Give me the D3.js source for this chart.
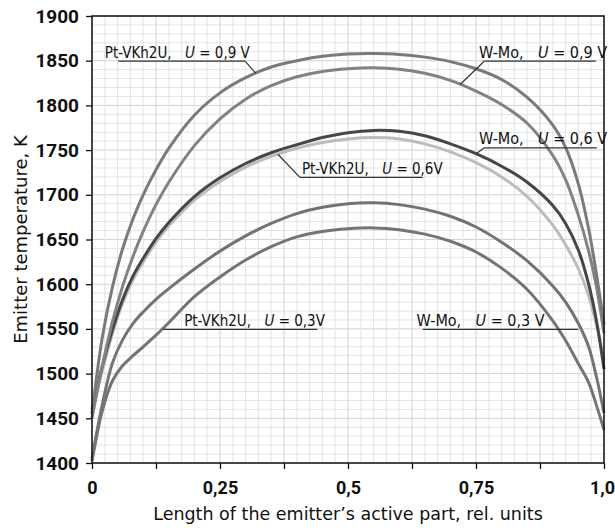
<!DOCTYPE html>
<html>
<head>
<meta charset="utf-8">
<script src="https://cdn.jsdelivr.net/npm/d3@7"></script>
<style>
  body { margin: 0; background: #fff; }
  .tick-y, .tick-x { font-family: "Liberation Sans Narrow", "Arial Narrow", "Roboto", sans-serif; fill: #111; }
  .note { font-family: "DejaVu Sans Condensed", "DejaVu Sans", sans-serif; fill: #111; }
  .title { font-family: "DejaVu Sans", Verdana, sans-serif; fill: #111; }
</style>
</head>
<body>
<div id="chart"></div>
<script>
// positions along the emitter (rel. units)
var xs = [0, 0.02, 0.04, 0.06, 0.08, 0.1, 0.125, 0.15, 0.2, 0.25, 0.3, 0.35, 0.4, 0.45,
          0.5, 0.55, 0.6, 0.65, 0.7, 0.75, 0.8, 0.85, 0.9, 0.925, 0.95, 0.97, 0.985, 1.0];

// emitter temperature, K
var ptVkh_09 = [1455, 1540, 1597, 1640, 1673, 1700, 1728, 1752, 1789, 1814, 1831, 1843, 1850, 1855,
                1857.5, 1858, 1857, 1854, 1849, 1841, 1829, 1809, 1778, 1753, 1712, 1662, 1612, 1555];
var wMo_09   = [1450, 1508, 1558, 1598, 1631, 1659, 1689, 1714, 1755, 1785, 1807, 1822, 1832, 1838,
                1841, 1842, 1840.5, 1836, 1828, 1816, 1801, 1780, 1744, 1717, 1677, 1637, 1598, 1545];
var wMo_06   = [1460, 1508, 1549, 1583, 1609, 1629, 1651, 1669, 1698, 1719, 1735, 1747, 1756, 1764,
                1769.5, 1772, 1771, 1766, 1757, 1746, 1732, 1714, 1688, 1668, 1638, 1600, 1560, 1505];
var ptVkh_06 = [1455, 1503, 1545, 1579, 1605, 1625, 1647, 1665, 1694, 1715, 1731, 1743, 1752, 1758.5,
                1762.5, 1764, 1762.5, 1757, 1748, 1736, 1720, 1698, 1666, 1644, 1617, 1587, 1555, 1515];
var wMo_03   = [1405, 1465, 1512, 1538, 1556, 1569, 1583, 1595, 1617, 1637, 1654, 1668, 1679, 1686,
                1690, 1691, 1689, 1684, 1676, 1664, 1647, 1626, 1598, 1580, 1556, 1530, 1497, 1456];
var ptVkh_03 = [1402, 1458, 1492, 1509, 1520, 1530, 1543, 1557, 1586, 1608, 1627, 1642, 1653, 1659,
                1662, 1663, 1661, 1656, 1648, 1636, 1618, 1594, 1559, 1537, 1511, 1490, 1465, 1437];

var yTicks = [1400, 1450, 1500, 1550, 1600, 1650, 1700, 1750, 1800, 1850, 1900];
var xTicks = [0, 0.125, 0.25, 0.375, 0.5, 0.625, 0.75, 0.875, 1.0];
var xTickLabels = { 0: "0", 0.25: "0,25", 0.5: "0,5", 0.75: "0,75", 1: "1,0" };

var series = [
  { key: "wMo03", values: wMo_03, color: "#737373" },
  { key: "pt03", values: ptVkh_03, color: "#747474" },
  { key: "pt06", values: ptVkh_06, color: "#bcbcbc" },
  { key: "wMo06", values: wMo_06, color: "#464646" },
  { key: "wMo09", values: wMo_09, color: "#828282" },
  { key: "pt09", values: ptVkh_09, color: "#7a7a7a" }
];

// callouts: label, target curve, text start, underline span, leader end on curve (data units)
var notes = [
  { name: "Pt-VKh2U,", u: "0,9 V", key: "pt09", size: 15, tx: 0.025, ty: 1850, x0: 0.051, x1: 0.299, at: 0.32 },
  { name: "W-Mo,", u: "0,9 V", key: "wMo09", size: 16, tx: 0.756, ty: 1850, x0: 0.766, x1: 0.984, at: 0.719 },
  { name: "W-Mo,", u: "0,6 V", key: "wMo06", size: 16, tx: 0.756, ty: 1753, x0: 0.766, x1: 0.986, at: 0.75 },
  { name: "Pt-VKh2U,", u: "0,6V", key: "pt06", size: 15, tx: 0.41, ty: 1720, x0: 0.406, x1: 0.646, at: 0.363 },
  { name: "Pt-VKh2U,", u: "0,3V", key: "pt03", size: 15, tx: 0.18, ty: 1550, x0: 0.139, x1: 0.44, at: 0.139 },
  { name: "W-Mo,", u: "0,3 V", key: "wMo03", size: 16, tx: 0.634, ty: 1550, x0: 0.646, x1: 0.95, at: 0.95 }
];

var W = 615, H = 528;
var svg = d3.select("#chart").append("svg")
    .attr("width", W)
    .attr("height", H);

var x = d3.scaleLinear().domain([0, 1]).range([92, 604]);
var y = d3.scaleLinear().domain([1400, 1900]).range([463, 16]);

// minor grid
var grid = svg.append("g");
grid.selectAll("line.gy")
    .data(d3.range(1400, 1901, 10))
    .enter().append("line")
    .attr("x1", x(0)).attr("x2", x(1))
    .attr("y1", d => y(d)).attr("y2", d => y(d))
    .attr("stroke", d => d % 50 === 0 ? "#d2d2d2" : "#e4e4e4")
    .attr("stroke-width", 1);
grid.selectAll("line.gx")
    .data(d3.range(0, 41).map(i => i / 40))
    .enter().append("line")
    .attr("y1", y(1400)).attr("y2", y(1900))
    .attr("x1", d => x(d)).attr("x2", d => x(d))
    .attr("stroke", (d, i) => i % 5 === 0 ? "#d2d2d2" : "#e4e4e4")
    .attr("stroke-width", 1);

// curves
var line = d3.line()
    .x((d, i) => x(xs[i]))
    .y(d => y(d))
    .curve(d3.curveCatmullRom.alpha(0.5));

svg.append("g").selectAll("path")
    .data(series)
    .enter().append("path")
    .attr("fill", "none")
    .attr("stroke", d => d.color)
    .attr("stroke-width", 3)
    .attr("d", d => line(d.values));

// value on a curve at position p (linear between read points)
function valueAt(key, p) {
  var s = series.find(d => d.key === key).values;
  var i = Math.max(1, Math.min(xs.length - 1, d3.bisectLeft(xs, p)));
  var t = (p - xs[i - 1]) / (xs[i] - xs[i - 1]);
  return s[i - 1] + t * (s[i] - s[i - 1]);
}

// callouts
var ng = svg.append("g");
notes.forEach(function (n) {
  ng.append("line")
    .attr("x1", x(n.x0)).attr("x2", x(n.x1))
    .attr("y1", y(n.ty) + 0.5).attr("y2", y(n.ty) + 0.5)
    .attr("stroke", "#333").attr("stroke-width", 1.3);
  var lx = n.at < n.x0 ? n.x0 : (n.at > n.x1 ? n.x1 : null);
  if (lx !== null) {
    ng.append("line")
      .attr("x1", x(lx)).attr("y1", y(n.ty) + 0.5)
      .attr("x2", x(n.at)).attr("y2", y(valueAt(n.key, n.at)))
      .attr("stroke", "#333").attr("stroke-width", 1.2);
  }
  var t = ng.append("text")
    .attr("class", "note")
    .attr("x", x(n.tx))
    .attr("y", y(n.ty) - 3)
    .attr("font-size", n.size);
  t.append("tspan").text(n.name + "\u2003");
  t.append("tspan").attr("font-style", "italic").text("U");
  t.append("tspan").text(" = " + n.u);
});

// frame
svg.append("rect")
    .attr("x", x(0)).attr("y", y(1900))
    .attr("width", x(1) - x(0)).attr("height", y(1400) - y(1900))
    .attr("fill", "none").attr("stroke", "#111").attr("stroke-width", 1.5);

// axes
var yAxis = d3.axisLeft(y).tickValues(yTicks).tickSize(6).tickPadding(7).tickFormat(d3.format("d"));
var gy = svg.append("g").attr("transform", "translate(" + x(0) + ",0)").call(yAxis);
gy.select(".domain").remove();
gy.selectAll("line").attr("stroke", "#111").attr("stroke-width", 1.3);
gy.selectAll("text").attr("class", "tick-y").attr("font-size", 19).attr("font-weight", "bold").attr("fill", "#1a1a1a");

var xAxis = d3.axisBottom(x).tickValues(xTicks).tickSize(6).tickPadding(12)
    .tickFormat(d => xTickLabels[d] || "");
var gx = svg.append("g").attr("transform", "translate(0," + y(1400) + ")").call(xAxis);
gx.select(".domain").remove();
gx.selectAll("line").attr("stroke", "#111").attr("stroke-width", 1.3);
gx.selectAll("text").attr("class", "tick-x").attr("font-size", 18).attr("font-weight", "bold").attr("fill", "#1a1a1a")
    .attr("dx", d => d === 1 ? -2 : 0);

// axis titles
svg.append("text")
    .attr("class", "title")
    .attr("x", (x(0) + x(1)) / 2)
    .attr("y", 520)
    .attr("text-anchor", "middle")
    .attr("font-size", 17.5)
    .text("Length of the emitter\u2019s active part, rel. units");

svg.append("text")
    .attr("class", "title")
    .attr("transform", "translate(27," + y(1650) + ") rotate(-90)")
    .attr("text-anchor", "middle")
    .attr("font-size", 18)
    .text("Emitter temperature, K");
</script>
</body>
</html>
